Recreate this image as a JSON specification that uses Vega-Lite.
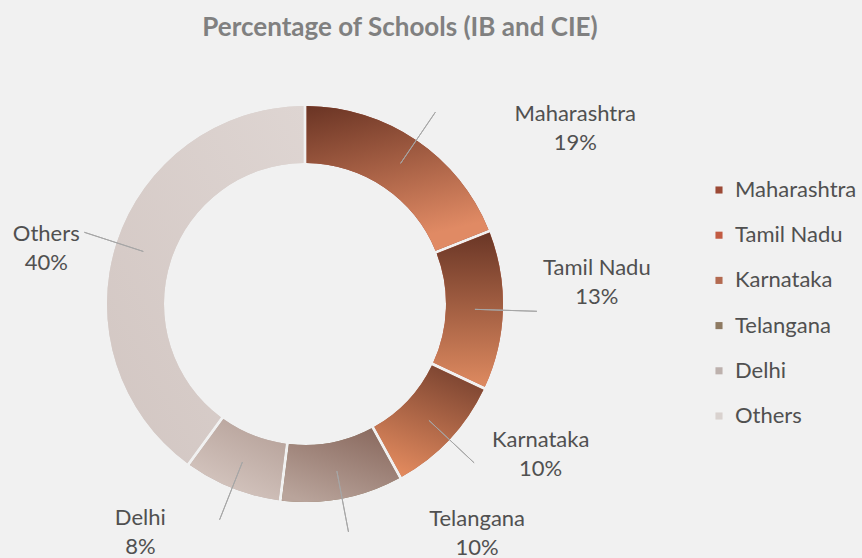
{
  "$schema": "https://vega.github.io/schema/vega-lite/v6.json",
  "autosize": {"type": "none"},
  "width": 610,
  "height": 496,
  "padding": {"left": 0, "top": 56, "right": 252, "bottom": 6},
  "background": "#f1f1f1",
  "title": {"text": "Percentage of Schools (IB and CIE)", "font": "Lato", "fontSize": 26, "fontWeight": "bold", "color": "#808080", "anchor": "middle", "dx": 95, "offset": 15},
  "config": {"view": {"stroke": null}},
  "data": {"values": [
    {"state": "Maharashtra", "pct": 19},
    {"state": "Tamil Nadu", "pct": 13},
    {"state": "Karnataka", "pct": 10},
    {"state": "Telangana", "pct": 10},
    {"state": "Delhi", "pct": 8},
    {"state": "Others", "pct": 40}
  ]},
  "transform": [
    {"window": [{"op": "sum", "field": "pct", "as": "end"}], "frame": [null, 0]},
    {"calculate": "datum.end - datum.pct", "as": "start"},
    {"calculate": "datum.end - datum.pct / 2", "as": "mid"},
    {"calculate": "datum.state + '\\n' + datum.pct + '%'", "as": "label"}
  ],
  "layer": [
    {
      "mark": {"type": "arc", "padAngle": 0.013, "radius": 198, "radius2": 141},
      "encoding": {
        "theta": {"field": "start", "type": "quantitative", "scale": {"domain": [0, 100]}},
        "theta2": {"field": "end"},
        "color": {"field": "state", "type": "nominal", "sort": null,
          "scale": {"domain": ["Maharashtra", "Tamil Nadu", "Karnataka", "Telangana", "Delhi", "Others"],
                    "range": ["#9c4a36", "#c25b42", "#b36a50", "#8e7a62", "#bdb1ad", "#d9d2cf"]},
          "legend": {"title": null, "orient": "none", "legendX": 708, "legendY": 123, "padding": 0,
            "symbolType": "square", "symbolSize": 50, "symbolStrokeWidth": 0, "labelFont": "Lato", "labelFontSize": 22,
            "labelColor": "#505050", "labelOffset": 5, "rowPadding": 23.2, "labelLimit": 200}}
      }
    },
    {"transform": [{"filter": "datum.state == 'Maharashtra'"}],
     "mark": {"type": "arc", "padAngle": 0.013, "radius": 198, "radius2": 141,
       "fill": {"gradient": "linear", "x1": 0, "y1": 0, "x2": 0.3, "y2": 1, "stops": [{"offset": 0, "color": "#6a3424"}, {"offset": 1, "color": "#e08a64"}]}},
     "encoding": {"theta": {"field": "start", "type": "quantitative", "scale": {"domain": [0, 100]}}, "theta2": {"field": "end"}}},
    {"transform": [{"filter": "datum.state == 'Tamil Nadu'"}],
     "mark": {"type": "arc", "padAngle": 0.013, "radius": 198, "radius2": 141,
       "fill": {"gradient": "linear", "x1": 0, "y1": 0, "x2": 0, "y2": 1, "stops": [{"offset": 0, "color": "#6a3626"}, {"offset": 1, "color": "#de8a60"}]}},
     "encoding": {"theta": {"field": "start", "type": "quantitative", "scale": {"domain": [0, 100]}}, "theta2": {"field": "end"}}},
    {"transform": [{"filter": "datum.state == 'Karnataka'"}],
     "mark": {"type": "arc", "padAngle": 0.013, "radius": 198, "radius2": 141,
       "fill": {"gradient": "linear", "x1": 0.7, "y1": 0, "x2": 0.3, "y2": 1, "stops": [{"offset": 0, "color": "#7a4330"}, {"offset": 1, "color": "#e28a5e"}]}},
     "encoding": {"theta": {"field": "start", "type": "quantitative", "scale": {"domain": [0, 100]}}, "theta2": {"field": "end"}}},
    {"transform": [{"filter": "datum.state == 'Telangana'"}],
     "mark": {"type": "arc", "padAngle": 0.013, "radius": 198, "radius2": 141,
       "fill": {"gradient": "linear", "x1": 0.8, "y1": 0, "x2": 0.2, "y2": 1, "stops": [{"offset": 0, "color": "#8a6a5f"}, {"offset": 1, "color": "#b9a49b"}]}},
     "encoding": {"theta": {"field": "start", "type": "quantitative", "scale": {"domain": [0, 100]}}, "theta2": {"field": "end"}}},
    {"transform": [{"filter": "datum.state == 'Delhi'"}],
     "mark": {"type": "arc", "padAngle": 0.013, "radius": 198, "radius2": 141,
       "fill": {"gradient": "linear", "x1": 0.8, "y1": 0, "x2": 0.2, "y2": 1, "stops": [{"offset": 0, "color": "#b5a098"}, {"offset": 1, "color": "#d8cac4"}]}},
     "encoding": {"theta": {"field": "start", "type": "quantitative", "scale": {"domain": [0, 100]}}, "theta2": {"field": "end"}}},
    {"transform": [{"filter": "datum.state == 'Others'"}],
     "mark": {"type": "arc", "padAngle": 0.013, "radius": 198, "radius2": 141,
       "fill": {"gradient": "linear", "x1": 0, "y1": 1, "x2": 1, "y2": 0, "stops": [{"offset": 0, "color": "#d2c6c2"}, {"offset": 1, "color": "#ded5d2"}]}},
     "encoding": {"theta": {"field": "start", "type": "quantitative", "scale": {"domain": [0, 100]}}, "theta2": {"field": "end"}}},
    {"mark": {"type": "arc", "radius": 232, "radius2": 170, "fillOpacity": 0, "stroke": "#a6a6a6", "strokeWidth": 1},
     "encoding": {"theta": {"field": "mid", "type": "quantitative", "scale": {"domain": [0, 100]}}, "theta2": {"field": "mid"}}},
    {"transform": [{"filter": "datum.state == 'Maharashtra'"}],
     "mark": {"type": "text", "font": "Lato", "fontSize": 22, "color": "#505050", "align": "center", "baseline": "middle", "lineBreak": "\n", "lineHeight": 29, "dx": 141, "dy": 0},
     "encoding": {"theta": {"field": "mid", "type": "quantitative", "scale": {"domain": [0, 100]}}, "radius": {"value": 230}, "text": {"field": "label"}}},
    {"transform": [{"filter": "datum.state == 'Tamil Nadu'"}],
     "mark": {"type": "text", "font": "Lato", "fontSize": 22, "color": "#505050", "align": "center", "baseline": "middle", "lineBreak": "\n", "lineHeight": 29, "dx": 62, "dy": -43},
     "encoding": {"theta": {"field": "mid", "type": "quantitative", "scale": {"domain": [0, 100]}}, "radius": {"value": 230}, "text": {"field": "label"}}},
    {"transform": [{"filter": "datum.state == 'Karnataka'"}],
     "mark": {"type": "text", "font": "Lato", "fontSize": 22, "color": "#505050", "align": "center", "baseline": "middle", "lineBreak": "\n", "lineHeight": 29, "dx": 68, "dy": -21},
     "encoding": {"theta": {"field": "mid", "type": "quantitative", "scale": {"domain": [0, 100]}}, "radius": {"value": 230}, "text": {"field": "label"}}},
    {"transform": [{"filter": "datum.state == 'Telangana'"}],
     "mark": {"type": "text", "font": "Lato", "fontSize": 22, "color": "#505050", "align": "center", "baseline": "middle", "lineBreak": "\n", "lineHeight": 29, "dx": 129, "dy": -11},
     "encoding": {"theta": {"field": "mid", "type": "quantitative", "scale": {"domain": [0, 100]}}, "radius": {"value": 230}, "text": {"field": "label"}}},
    {"transform": [{"filter": "datum.state == 'Delhi'"}],
     "mark": {"type": "text", "font": "Lato", "fontSize": 22, "color": "#505050", "align": "center", "baseline": "middle", "lineBreak": "\n", "lineHeight": 29, "dx": -80, "dy": 0},
     "encoding": {"theta": {"field": "mid", "type": "quantitative", "scale": {"domain": [0, 100]}}, "radius": {"value": 230}, "text": {"field": "label"}}},
    {"transform": [{"filter": "datum.state == 'Others'"}],
     "mark": {"type": "text", "font": "Lato", "fontSize": 22, "color": "#505050", "align": "center", "baseline": "middle", "lineBreak": "\n", "lineHeight": 29, "dx": -40, "dy": 1},
     "encoding": {"theta": {"field": "mid", "type": "quantitative", "scale": {"domain": [0, 100]}}, "radius": {"value": 230}, "text": {"field": "label"}}}
  ]
}
